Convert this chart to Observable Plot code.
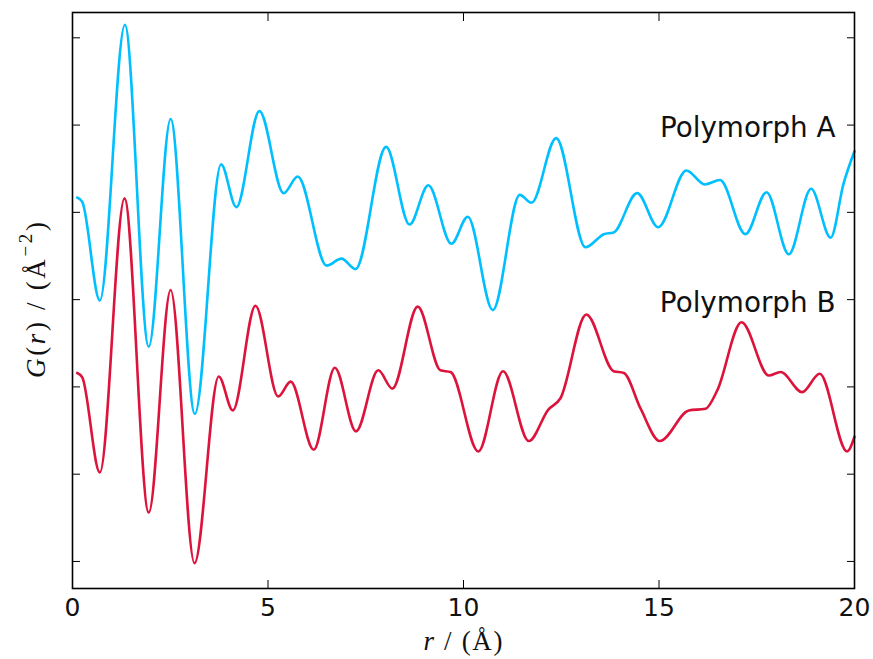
<!DOCTYPE html>
<html>
<head>
<meta charset="utf-8">
<script src="https://cdn.jsdelivr.net/npm/d3@7"></script>
<script src="https://cdn.jsdelivr.net/npm/@observablehq/plot@0.6"></script>
<style>
  html, body { margin: 0; padding: 0; background: #fff; }
  svg { display: block; }
</style>
</head>
<body>
<div id="chart"></div>
<script>
// ---- data ----
const seriesNames = ["Polymorph A", "Polymorph B"];
const seriesOffsets = [2, 0];
const seriesColors = ["#00bfff", "#dc143c"];

const rA = [0.12, 0.25, 0.70, 1.34, 1.95, 2.51, 3.13, 3.80, 4.19, 4.78, 5.40, 5.76, 6.50, 6.88, 7.24,
            8.02, 8.62, 9.10, 9.69, 10.11, 10.75, 11.44, 11.74, 12.37, 13.12, 13.59, 13.84, 14.44, 14.98,
            15.70, 16.17, 16.56, 17.21, 17.75, 18.32, 18.89, 19.39, 19.72, 20.0];
const gA = [0.17, 0.12, -1.01, 2.15, -1.54, 1.07, -2.31, 0.55, 0.06, 1.16, 0.22, 0.41, -0.61, -0.53, -0.65,
            0.75, -0.14, 0.31, -0.36, -0.05, -1.12, 0.20, 0.11, 0.85, -0.40, -0.25, -0.23, 0.22, -0.17,
            0.48, 0.32, 0.37, -0.25, 0.23, -0.48, 0.27, -0.29, 0.33, 0.70];

const rB = [0.12, 0.25, 0.70, 1.33, 1.95, 2.51, 3.12, 3.74, 4.10, 4.68, 5.26, 5.58, 6.17, 6.71, 7.25,
            7.82, 8.18, 8.83, 9.41, 9.67, 10.38, 11.01, 11.67, 12.17, 12.48, 13.14, 13.84, 14.10, 14.53,
            15.02, 15.76, 16.19, 16.49, 17.11, 17.81, 18.11, 18.66, 19.11, 19.81, 20.0];
const gB = [0.16, 0.11, -0.98, 2.16, -1.44, 1.11, -2.02, 0.12, -0.27, 0.93, -0.11, 0.06, -0.72, 0.22, -0.51,
            0.19, -0.02, 0.92, 0.19, 0.17, -0.74, 0.18, -0.62, -0.26, -0.13, 0.83, 0.18, 0.16, -0.25,
            -0.62, -0.27, -0.25, -0.04, 0.74, 0.13, 0.17, -0.06, 0.15, -0.74, -0.57];

const xTicks = [0, 5, 10, 15, 20];
const yTicks = [-2, -1, 0, 1, 2, 3, 4];

// ---- build table ----
const rows = [
  ...rA.map((r, i) => ({series: seriesNames[0], r, g: gA[i] + seriesOffsets[0]})),
  ...rB.map((r, i) => ({series: seriesNames[1], r, g: gB[i] + seriesOffsets[1]}))
];
const labels = seriesNames.map((name, i) => ({name, g: seriesOffsets[i] + 1}));

const W = 873, H = 659, mL = 72, mR = 19, mT = 12, mB = 71;

const chart = Plot.plot({
  width: W, height: H,
  marginLeft: mL, marginRight: mR, marginTop: mT, marginBottom: mB,
  style: {fontFamily: "DejaVu Sans", background: "white", color: "black"},
  x: {domain: [0, 20]},
  y: {domain: [-2.31, 4.29]},
  color: {domain: seriesNames, range: seriesColors},
  marks: [
    Plot.line(rows, {x: "r", y: "g", z: "series", stroke: "series", strokeWidth: 2.6, curve: "monotone-x"}),
    Plot.axisX(xTicks, {anchor: "bottom", tickSize: 0, tickPadding: 10, fontSize: 25, label: null, fill: "#111"}),
    Plot.axisX(xTicks, {anchor: "bottom", tickSize: -8, tickFormat: () => "", label: null}),
    Plot.axisX(xTicks, {anchor: "top", tickSize: -8, tickFormat: () => "", label: null}),
    Plot.axisY(yTicks, {anchor: "left", tickSize: -8, tickFormat: () => "", label: null}),
    Plot.axisY(yTicks, {anchor: "right", tickSize: -8, tickFormat: () => "", label: null}),
    Plot.frame({stroke: "black", strokeWidth: 1.6}),
    Plot.text(labels, {text: "name", y: "g", frameAnchor: "right", dx: -19, dy: 3, textAnchor: "end",
                       fontSize: 27.8, fill: "#111", fontFamily: "DejaVu Sans"})
  ]
});

document.getElementById("chart").appendChild(chart);

// ---- axis titles (math-style) ----
const svg = d3.select(chart);
const cx = mL + (W - mL - mR) / 2;
const cy = mT + (H - mT - mB) / 2;

const xl = svg.append("text")
  .attr("x", cx).attr("y", H - 9)
  .attr("text-anchor", "middle")
  .attr("font-family", "Liberation Serif, DejaVu Serif, serif")
  .attr("font-size", 27)
  .attr("textLength", 79)
  .attr("lengthAdjust", "spacing")
  .attr("fill", "#111");
xl.append("tspan").attr("font-style", "italic").text("r");
xl.append("tspan").text(" / (Å)");

const yl = svg.append("text")
  .attr("transform", `translate(45,${cy}) rotate(-90)`)
  .attr("text-anchor", "middle")
  .attr("font-family", "Liberation Serif, DejaVu Serif, serif")
  .attr("font-size", 27)
  .attr("textLength", 156)
  .attr("lengthAdjust", "spacing")
  .attr("fill", "#111");
yl.append("tspan").attr("font-style", "italic").text("G");
yl.append("tspan").text("(");
yl.append("tspan").attr("font-style", "italic").text("r");
yl.append("tspan").text(") / (Å");
yl.append("tspan").attr("font-size", 19).attr("dy", -13).text("−2");
yl.append("tspan").attr("dy", 13).text(")");
</script>
</body>
</html>
